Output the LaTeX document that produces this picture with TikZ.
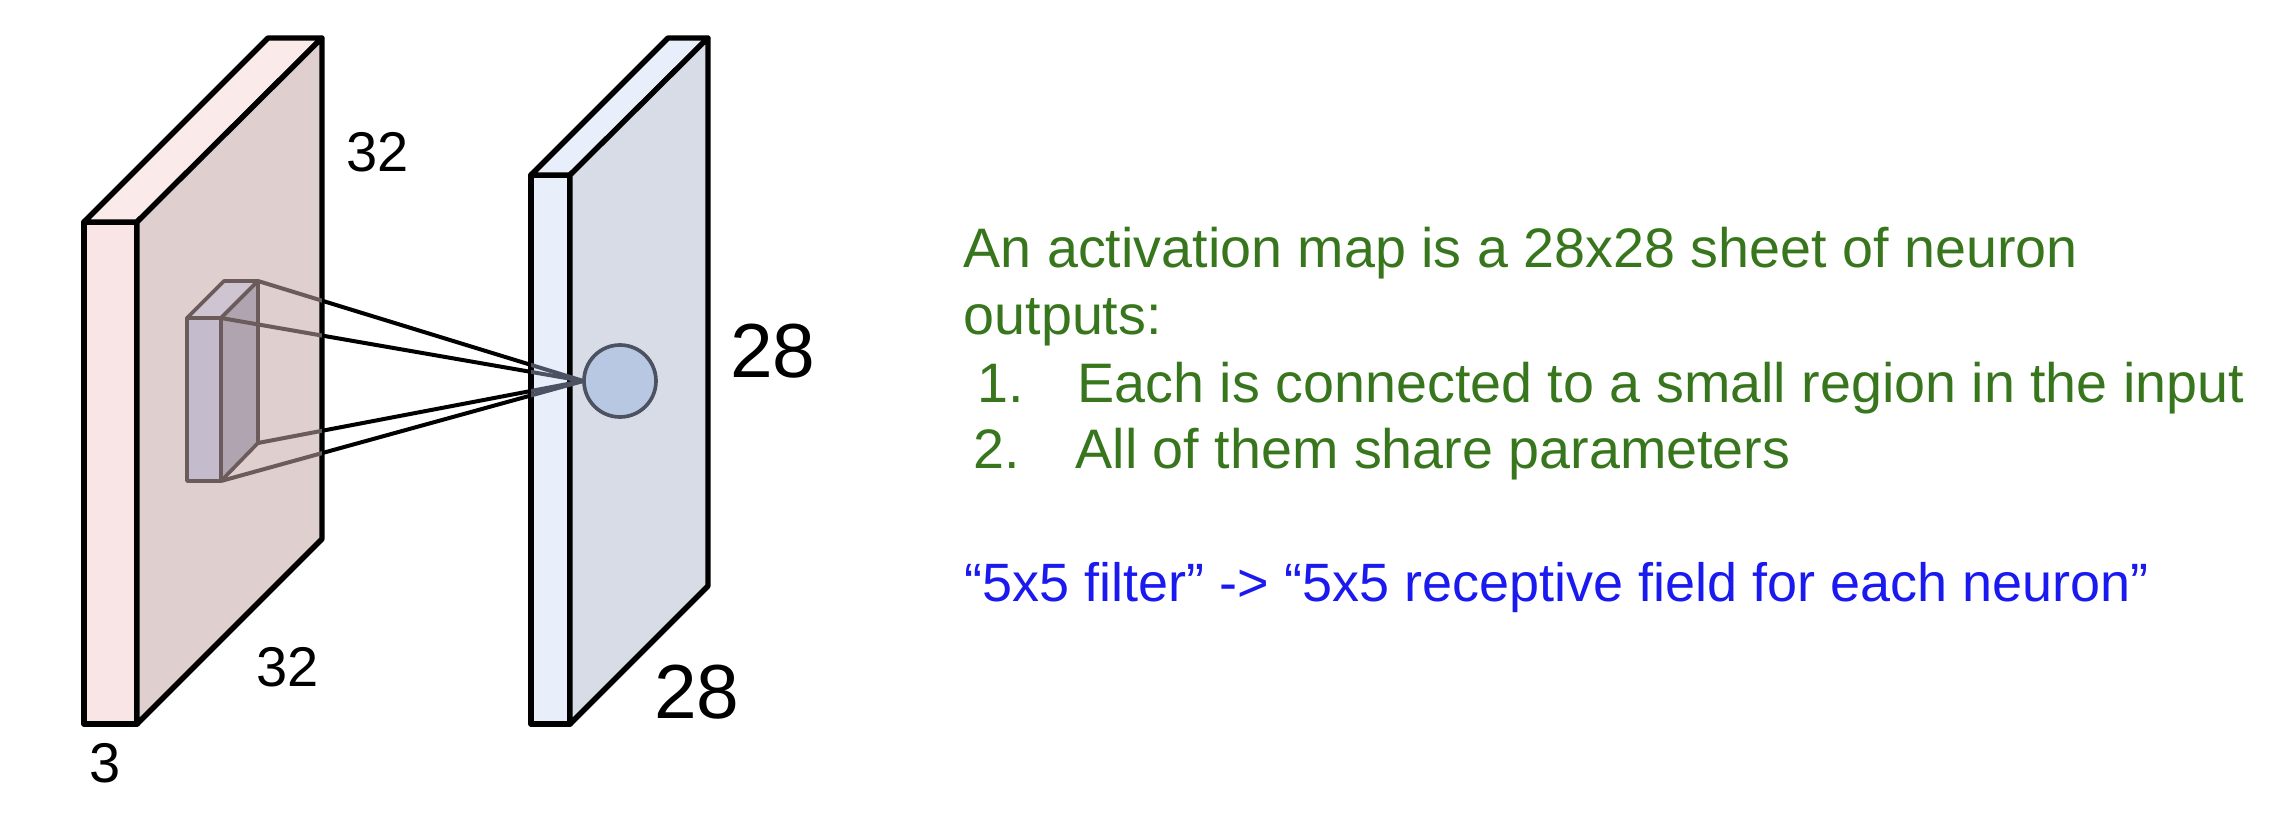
\documentclass[tikz,border=0pt]{standalone}
\usepackage{fontspec}
\setmainfont{Liberation Sans}
\usepackage{xcolor}
\usetikzlibrary{positioning}

\definecolor{inthin}{HTML}{F9E5E5}
\definecolor{intop}{HTML}{FAEAEA}
\definecolor{inside}{HTML}{DFCFCF}
\definecolor{outthin}{HTML}{E8EEFA}
\definecolor{outside}{HTML}{D8DCE6}
\definecolor{filtfront}{HTML}{C4BCCC}
\definecolor{filttop}{HTML}{CEC4D2}
\definecolor{filtside}{HTML}{B0A4B0}
\definecolor{filtline}{HTML}{6B5B5B}
\definecolor{neurfill}{HTML}{B8C8E2}
\definecolor{neurline}{HTML}{4C5262}
\definecolor{textgreen}{HTML}{38761D}
\definecolor{textblue}{HTML}{1A1AF0}

\tikzset{
  slab/.style={draw=black,line width=1.6pt,line join=round},
  filt/.style={draw=filtline,line width=1.1pt,line join=round},
  wire/.style={line width=1.2pt},
  dimlabel/.style={font=\fontsize{16.8}{18}\selectfont,inner sep=0pt},
  biglabel/.style={font=\fontsize{23}{25}\selectfont,inner sep=0pt},
  note/.style={font=\fontsize{16.7}{20}\selectfont,text=textgreen,anchor=base west,inner sep=0pt}
}

\begin{document}
\begin{tikzpicture}[x=0.3pt,y=-0.3pt]
  \useasboundingbox (0,0) rectangle (2285,822);
  % input volume 32x32x3
  \filldraw[slab,fill=inthin] (84,222) rectangle (137,724);
  \filldraw[slab,fill=intop] (84,222) -- (268,38) -- (322,38) -- (137,222) -- cycle;
  \filldraw[slab,fill=inside] (137,222) -- (322,38) -- (322,539) -- (137,724) -- cycle;
  % filter block
  \filldraw[filt,fill=filtfront] (187,318) rectangle (221,481);
  \filldraw[filt,fill=filttop] (187,318) -- (224,281) -- (258,281) -- (221,318) -- cycle;
  \filldraw[filt,fill=filtside] (221,318) -- (258,281) -- (258,443) -- (221,481) -- cycle;
  \coordinate (btr) at (258,281);
  \coordinate (ftr) at (221,318);
  \coordinate (bbr) at (258,443);
  \coordinate (fbr) at (221,481);
  % activation map 28x28x1
  \filldraw[slab,fill=outthin] (531,175) rectangle (570,724);
  \filldraw[slab,fill=outthin] (531,175) -- (668,38) -- (708,38) -- (570,175) -- cycle;
  \filldraw[slab,fill=outside] (570,175) -- (708,38) -- (708,586) -- (570,724) -- cycle;
  \node[circle,minimum size=21.6pt,inner sep=0pt] (neuron) at (620,381) {};
  % receptive field lines
  \begin{scope}
    \clip (0,0) rectangle (322,822);
    \foreach \c in {btr,ftr,bbr,fbr}
      \draw[wire,filtline] (\c) -- (neuron.west);
  \end{scope}
  \begin{scope}
    \clip (322,0) rectangle (531,822);
    \foreach \c in {btr,ftr,bbr,fbr}
      \draw[wire,black] (\c) -- (neuron.west);
  \end{scope}
  \begin{scope}
    \clip (531,0) rectangle (700,822);
    \foreach \c in {btr,ftr,bbr,fbr}
      \draw[wire,neurline] (\c) -- (neuron.west);
  \end{scope}
  \filldraw[fill=neurfill,draw=neurline,line width=1.1pt] (neuron) circle (10.8pt);
  % sizes
  \node[dimlabel] (inh) at (378,152) {32};
  \node[dimlabel] (inw) at (288,667) {32};
  \node[dimlabel] (ind) at (105,763) {3};
  \node[biglabel] (outh) at (773,351) {28};
  \node[biglabel] (outw) at (697,692) {28};
  % text
  \node[note] (title) at (963,268) {An activation map is a 28x28 sheet of neuron};
  \node[note] (title2) at (963,335) {outputs:};
  \node[note] (numone) at (977,403) {1.};
  \node[note] (itemone) at (1077,403) {Each is connected to a small region in the input};
  \node[note] (numtwo) at (973,468) {2.};
  \node[note] (itemtwo) at (1075,468) {All of them share parameters};
  \node[note,text=textblue,font=\fontsize{16.2}{19}\selectfont] (remark) at (964,602)
    {“5x5 filter” -> “5x5 receptive field for each neuron”};
\end{tikzpicture}
\end{document}
